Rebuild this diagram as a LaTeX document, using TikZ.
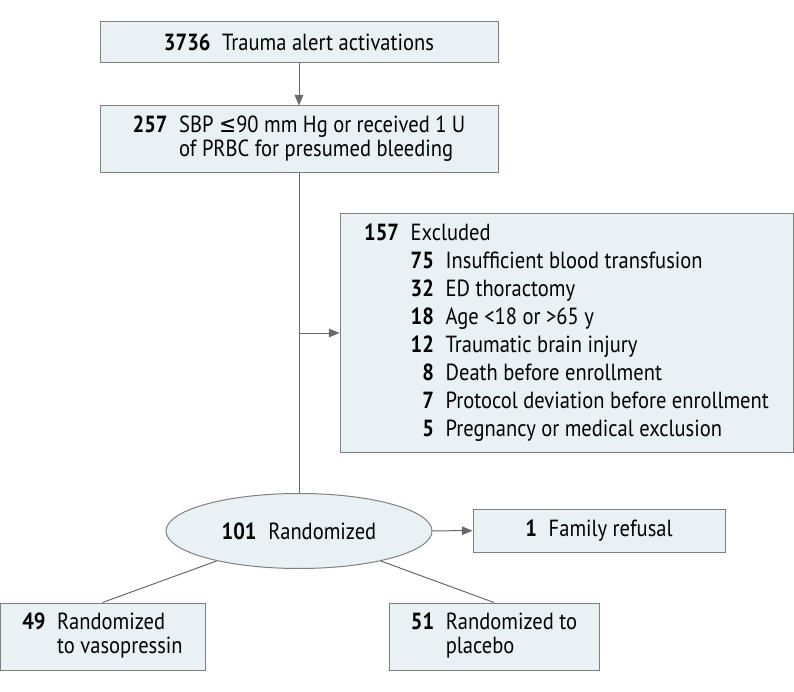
\documentclass[tikz,border=0pt]{standalone}
\usepackage{fontspec}
\setmainfont{PT Sans}[FakeStretch=0.88]
\newfontfamily\symfont{DejaVu Sans}[FakeStretch=0.88]
\usetikzlibrary{arrows.meta,shapes.geometric}
\definecolor{boxfill}{RGB}{232,241,244}
\definecolor{boxline}{RGB}{128,128,128}
\definecolor{linkgray}{RGB}{105,105,105}

\begin{document}
\begin{tikzpicture}[x=0.75pt, y=-0.75pt,
	every node/.style={font=\fontsize{17.5}{18}\selectfont},
	box/.style={draw=boxline, fill=boxfill, line width=0.75pt, inner sep=0pt, align=left},
	link/.style={draw=linkgray, line width=0.75pt},
	arr/.style={link, -{Triangle[length=8pt,width=6.5pt]}}]
		\useasboundingbox (0,0) rectangle (794,692);
		% main column
		\node[box, minimum width=298.5pt, minimum height=30.75pt] (alert) at (299,42.5) {\textbf{3736}\enspace Trauma alert activations};
		\node[box, minimum width=298.5pt, minimum height=50.25pt] (bleed) at (299,139.5) {\begin{tabular}{@{}l@{\enspace}l@{}}
			\textbf{257} & SBP {\symfont ≤}90 mm Hg or received 1 U\\
			& of PRBC for presumed bleeding
		\end{tabular}};
		\node[box, minimum width=339.75pt, minimum height=178.5pt] (excl) at (566.5,333) {\renewcommand{\arraystretch}{1.1667}\begin{tabular}{@{}r@{\enspace}r@{\enspace}l@{}}
			\textbf{157} & \multicolumn{2}{@{}l@{}}{Excluded}\\
			& \textbf{75} & Insufficient blood transfusion\\
			& \textbf{32} & ED thoractomy\\
			& \textbf{18} & Age <18 or >65 y\\
			& \textbf{12} & Traumatic brain injury\\
			& \textbf{8} & Death before enrollment\\
			& \textbf{7} & Protocol deviation before enrollment\\
			& \textbf{5} & Pregnancy or medical exclusion
		\end{tabular}};
		\node[box, ellipse, minimum width=199.5pt, minimum height=56.25pt] (rand) at (299,531) {\textbf{101}\enspace Randomized};
		\node[box, minimum width=189pt, minimum height=32.25pt] (refuse) at (599,530.5) {\textbf{1}\enspace Family refusal};
		% arms
		\node[box, minimum width=153.75pt, minimum height=50.25pt] (vaso) at (102.5,636.5) {\begin{tabular}{@{}l@{\enspace}l@{}}
			\textbf{49} & Randomized\\
			& to vasopressin
		\end{tabular}};
		\node[box, minimum width=157.5pt, minimum height=50.25pt] (placebo) at (494,636.5) {\begin{tabular}{@{}l@{\enspace}l@{}}
			\textbf{51} & Randomized to\\
			& placebo
		\end{tabular}};
		\coordinate (split) at (bleed.south |- excl.west);
		\draw[arr] (alert) -- (bleed);
		\draw[link] (bleed) -- (rand);
		\draw[arr] (split) -- (excl.west);
		\draw[arr] (rand) -- (refuse);
		\draw[link] (rand) -- (vaso.north);
		\draw[link] (rand) -- (placebo.north);
	\end{tikzpicture}
\end{document}
